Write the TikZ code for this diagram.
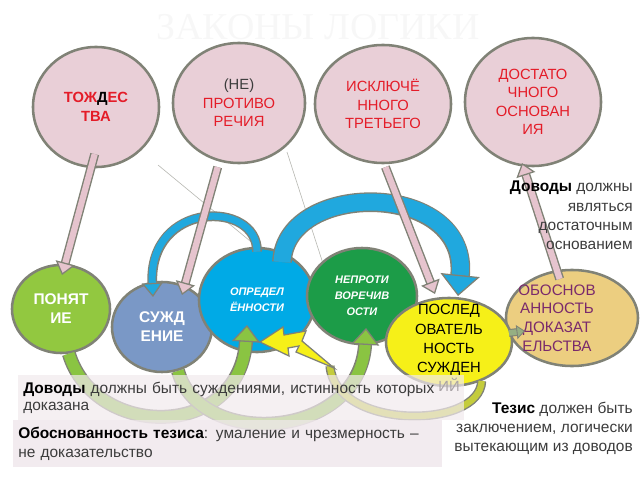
\documentclass[tikz,border=0pt]{standalone}
\usepackage{fontspec}
\setmainfont{Liberation Sans}
\newfontfamily\titlefont{Liberation Serif}
\usetikzlibrary{arrows.meta,shapes.geometric,calc}

\definecolor{lawpink}{RGB}{233,207,215}
\definecolor{rimgray}{RGB}{128,130,118}
\definecolor{lawred}{RGB}{228,28,40}
\definecolor{ponyatgreen}{RGB}{146,200,64}
\definecolor{suzhdblue}{RGB}{122,152,198}
\definecolor{opredblue}{RGB}{0,170,230}
\definecolor{neprotgreen}{RGB}{28,156,72}
\definecolor{posledyellow}{RGB}{246,240,24}
\definecolor{obosntan}{RGB}{236,206,128}
\definecolor{obosnpurple}{RGB}{122,42,108}
\definecolor{arcgreen}{RGB}{138,196,66}
\definecolor{arcolive}{RGB}{196,204,60}
\definecolor{arrowpink}{RGB}{230,196,206}
\definecolor{arcblue}{RGB}{32,168,222}
\definecolor{smallgreen}{RGB}{150,175,130}
\definecolor{textgray}{RGB}{60,60,60}
\definecolor{boxpink}{RGB}{241,233,237}

\tikzset{
  law/.style={ellipse, draw=rimgray, line width=1.8pt, fill=lawpink, text=lawred,
    align=center, inner sep=0pt, font=\fontsize{10.5}{13.2}\selectfont},
  part/.style={ellipse, draw=rimgray, line width=1.8pt, inner sep=0pt},
  parttext/.style={align=center, text=white, font=\bfseries\fontsize{11}{13.5}\selectfont},
  slanttext/.style={align=center, text=white, font=\bfseries\itshape\fontsize{7.8}{11.5}\selectfont},
  pinkarrow/.style={draw=arrowpink, line width=4.4pt, shorten <=0.8pt,
    -{Triangle[width=14pt,length=9pt,fill=arrowpink,color=rimgray,line width=0.9pt]},
    preaction={draw=rimgray, line width=6.4pt, arrows=-, shorten >=8pt}},
  smallbluearc/.style={draw=arcblue, line width=5pt,
    -{Triangle[width=15pt,length=10pt,fill=arcblue,color=rimgray,line width=0.9pt]},
    preaction={draw=rimgray, line width=7pt, arrows=-, shorten >=9pt}},
  bigbluearc/.style={draw=arcblue, line width=12pt,
    -{Triangle[width=28pt,length=15pt,fill=arcblue,color=rimgray,line width=0.9pt]},
    preaction={draw=rimgray, line width=14pt, arrows=-, shorten >=14pt}},
  greenarc/.style={draw=arcgreen, line width=8pt,
    -{Triangle[width=20pt,length=12pt,fill=arcgreen,color=rimgray,line width=0.9pt]},
    preaction={draw=rimgray, line width=10pt, arrows=-, shorten >=11pt}},
  olivearc/.style={draw=arcolive, line width=4.5pt, preaction={draw=rimgray, line width=6.5pt}},
  smallarrow/.style={draw=smallgreen, line width=4pt,
    -{Triangle[width=10pt,length=6pt,fill=smallgreen,color=rimgray,line width=0.6pt]},
    preaction={draw=rimgray, line width=5.5pt, arrows=-, shorten >=5pt}},
  thinline/.style={draw=rimgray!55, line width=0.45pt},
  notebox/.style={anchor=north west, fill=boxpink, inner xsep=0.125cm, inner ysep=0pt,
    align=left, text=textgray},
  sidenote/.style={anchor=north east, align=right, inner sep=0pt, text=textgray,
    font=\fontsize{11}{13.6}\selectfont}
}

\begin{document}
\begin{tikzpicture}[x=0.025cm,y=-0.025cm]
\useasboundingbox (0,0) rectangle (640,480);

\node[font=\titlefont\fontsize{27}{30}\selectfont, text=black!3] (title) at (318,27) {ЗАКОНЫ ЛОГИКИ};

\foreach \nm/\cx/\cy/\lawW/\lawH/\txt in {
  tozh/96/107/3.15/3.0/{\bfseries ТОЖ{\color{black}Д}ЕС\\\bfseries ТВА},
  protiv/239/103/3.3/3.0/{{\color{textgray}(НЕ)}\\ПРОТИВО\\РЕЧИЯ},
  isklyuch/383/104/3.4/2.95/{ИСКЛЮЧЁ\\ННОГО\\ТРЕТЬЕГО},
  dostat/533/102/3.4/3.2/{ДОСТАТО\\ЧНОГО\\ОСНОВАН\\ИЯ}}
{
	\node[law, minimum width=\lawW cm, minimum height=\lawH cm] (\nm) at (\cx,\cy) {\txt};
}

\node[part, fill=ponyatgreen, minimum width=2.45cm, minimum height=2.2cm,
  label={[parttext]center:ПОНЯТ\\ИЕ}] (ponyat) at (61,309) {};
\node[part, fill=suzhdblue, minimum width=2.5cm, minimum height=2.25cm,
  label={[parttext]center:СУЖД\\ЕНИЕ}] (suzhd) at (162,327) {};
\node[part, fill=opredblue, minimum width=2.9cm, minimum height=2.6cm,
  label={[slanttext]center:ОПРЕДЕЛ\\ЁННОСТИ}] (opred) at (257,300) {};
\node[part, fill=neprotgreen, minimum width=2.75cm, minimum height=2.4cm,
  label={[slanttext]center:НЕПРОТИ\\ВОРЕЧИВ\\ОСТИ}] (neprot) at (362,296) {};
\node[part, fill=obosntan, minimum width=3.3cm, minimum height=2.4cm,
  label={[align=center, text=obosnpurple, xshift=-0.375cm, font=\fontsize{10.8}{13.2}\selectfont]center:ОБОСНОВ\\АННОСТЬ\\ДОКАЗАТ\\ЕЛЬСТВА}] (obosn) at (572,318) {};
\node[part, fill=posledyellow, minimum width=3.15cm, minimum height=2.2cm,
  label={[align=center, text=black, yshift=-0.15cm, font=\fontsize{10.5}{13.6}\selectfont]center:ПОСЛЕД\\ОВАТЕЛЬ\\НОСТЬ\\СУЖДЕН\\ИЙ}] (posled) at (449,342) {};

\draw[thinline] ($(tozh.center)+(62,58)$) -- (opred.north);
\draw[thinline] ($(protiv.center)+(48,49)$) -- (neprot.north west);

\draw[greenarc] (ponyat.-80) .. controls (95,440) and (240,440) .. ($(opred.center)+(-10,25)$);
\draw[greenarc] (suzhd.-70) .. controls (200,450) and (360,440) .. ($(neprot.center)+(4,32)$);
\draw[olivearc] (posled.-50) .. controls (480,430) and (335,430) .. (330,366);
\filldraw[fill=posledyellow, draw=rimgray, line width=0.9pt]
  (260,342) -- (283,327) -- (284,335) -- (306,331) -- (302,341) -- (334,368)
  -- (296,352) -- (299,346) -- (288,348) -- (289,356) -- cycle;

\draw[smallbluearc] ($(opred.north)+(0,5)$) .. controls (258,200) and (148,200) .. ($(suzhd.center)+(-9,-30)$);
\draw[bigbluearc] ($(opred.center)+(25,-38)$) .. controls (285,180) and (470,180) .. ($(posled.center)+(9,-46)$);

\draw[pinkarrow] ($(tozh.center)+(-1,46)$) -- ($(ponyat.center)+(1,-34)$);
\draw[pinkarrow] ($(protiv.center)+(-21,63)$) -- ($(suzhd.center)+(20,-32)$);
\draw[pinkarrow] ($(isklyuch.center)+(2,62)$) -- ($(posled.center)+(-14,-48)$);
\draw[pinkarrow] ($(obosn.center)+(-12,-38)$) -- ($(dostat.center)+(-11,61)$);
\draw[smallarrow] ($(posled.center)+(60,-9)$) -- ($(obosn.center)+(-47,13)$);

\node[notebox, fill opacity=0.7, text opacity=1, minimum height=1.125cm, text width=10.9cm,
  font=\fontsize{11}{11.8}\selectfont] (proofnote) at (18,375)
  {\textbf{\color{black}Доводы} должны быть суждениями, истинность которых\\доказана};
\node[notebox, fill opacity=0.9, text opacity=1, minimum height=1.175cm, text width=10.475cm,
  font=\fontsize{11}{13.5}\selectfont] (thesisnote) at (13,420)
  {\textbf{\color{black}Обоснованность тезиса}: умаление и чрезмерность –\\не доказательство};

\node[sidenote] (dovodynote) at (633,181) {\textbf{\color{black}Доводы} должны\\являться\\достаточным\\основанием};
\node[sidenote] (tezisnote) at (633,402) {\textbf{\color{black}Тезис} должен быть\\заключением, логически\\вытекающим из доводов};
\end{tikzpicture}
\end{document}
